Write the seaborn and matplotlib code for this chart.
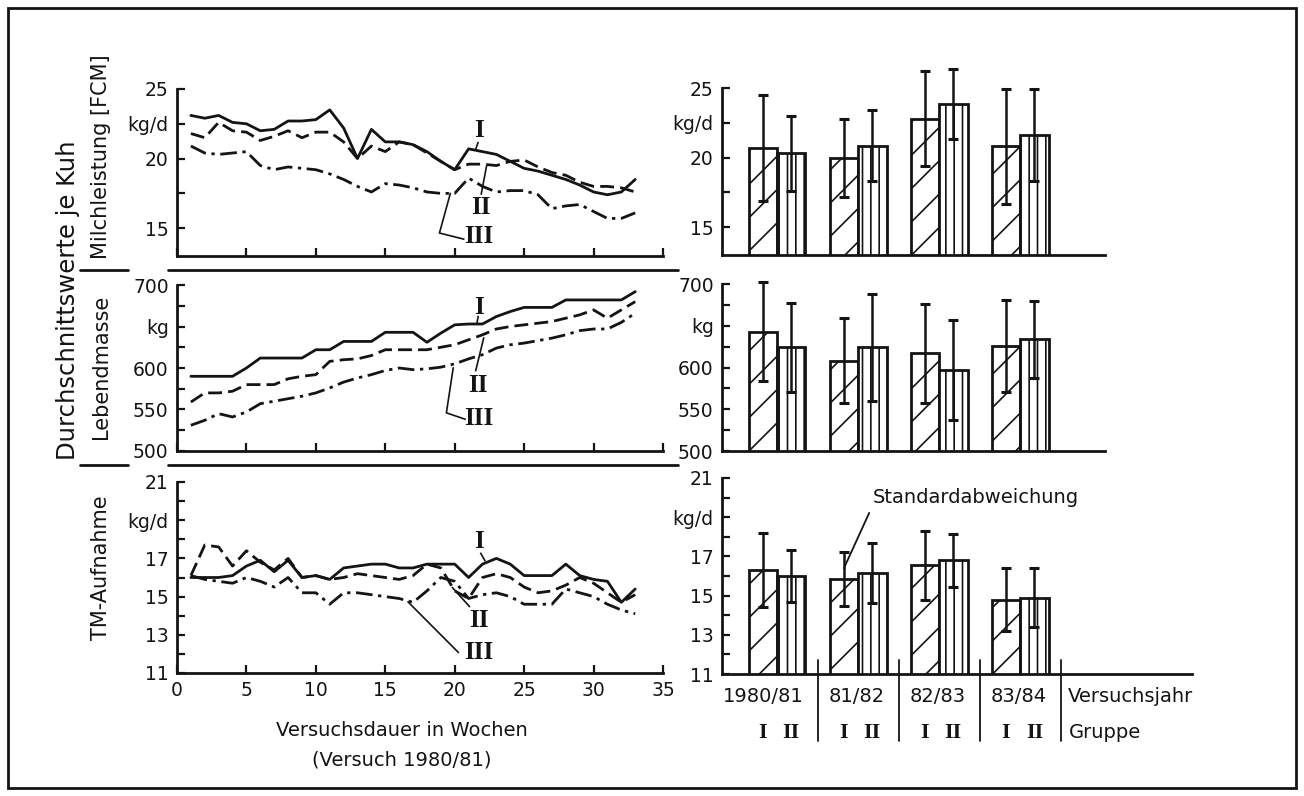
import numpy as np
import pandas as pd
import matplotlib
matplotlib.use("Agg")
import matplotlib.pyplot as plt
import seaborn as sns
from matplotlib.transforms import blended_transform_factory as btf
from matplotlib.patches import Rectangle
from matplotlib.lines import Line2D

# ---------------- data ----------------
weeks = list(range(1, 34))

milk_I = [23.1, 22.9, 23.1, 22.6, 22.5, 22.0, 22.1, 22.7, 22.7, 22.8, 23.5, 22.2, 20.0,
          22.1, 21.2, 21.2, 21.0, 20.5, 19.8, 19.2, 20.7, 20.5, 20.3, 19.8, 19.3, 19.1,
          18.8, 18.5, 18.1, 17.6, 17.4, 17.6, 18.5]
milk_II = [21.8, 21.5, 22.6, 22.0, 21.9, 21.3, 21.6, 22.0, 21.5, 21.9, 21.9, 21.2, 20.0,
           20.9, 20.5, 21.2, 21.0, 20.4, 19.8, 19.2, 19.6, 19.6, 19.5, 19.8, 19.9, 19.4,
           19.0, 18.8, 18.3, 18.0, 18.0, 17.9, 17.6]
milk_III = [20.9, 20.4, 20.3, 20.4, 20.5, 19.5, 19.2, 19.4, 19.3, 19.2, 18.9, 18.5, 18.0,
            17.6, 18.2, 18.1, 17.9, 17.6, 17.5, 17.5, 18.6, 18.0, 17.6, 17.7, 17.7, 17.4,
            16.4, 16.6, 16.7, 16.2, 15.7, 15.7, 16.1]

mass_I = [590, 590, 590, 590, 600, 612, 612, 612, 612, 622, 622, 632, 632, 632, 643, 643,
          643, 631, 642, 652, 653, 653, 662, 668, 673, 673, 673, 682, 682, 682, 682, 682, 692]
mass_II = [559, 570, 570, 572, 580, 580, 580, 587, 590, 592, 608, 610, 611, 615, 622, 622,
           622, 622, 625, 628, 634, 640, 647, 650, 652, 654, 656, 660, 664, 670, 660, 670, 680]
mass_III = [531, 537, 545, 541, 547, 557, 560, 563, 566, 570, 576, 583, 588, 592, 597, 600,
            598, 599, 601, 605, 611, 616, 624, 628, 630, 633, 636, 640, 645, 647, 647, 655, 666]

dm_I = [16.0, 16.0, 16.0, 16.1, 16.6, 16.9, 16.3, 16.9, 16.0, 16.1, 15.9, 16.5, 16.6,
        16.7, 16.7, 16.5, 16.5, 16.7, 16.7, 16.7, 16.0, 16.7, 17.0, 16.7, 16.1, 16.1,
        16.1, 16.7, 16.1, 15.9, 15.8, 14.7, 15.4]
dm_II = [16.1, 17.7, 17.6, 16.6, 17.4, 16.8, 16.4, 17.0, 16.0, 16.1, 15.9, 16.0, 16.2,
         16.1, 16.0, 15.9, 16.1, 16.7, 16.5, 15.3, 14.9, 16.0, 16.2, 16.0, 15.5, 15.2,
         15.3, 15.6, 16.0, 15.7, 15.2, 14.7, 15.1]
dm_III = [16.1, 15.9, 15.8, 15.7, 16.0, 15.8, 15.5, 16.0, 15.2, 15.2, 14.6, 15.2, 15.2,
          15.1, 15.0, 14.9, 14.7, 15.3, 16.0, 15.8, 14.9, 15.1, 15.2, 15.0, 14.6, 14.6,
          14.6, 15.4, 15.2, 15.0, 14.6, 14.3, 14.1]

years = ["1980/81", "81/82", "82/83", "83/84"]
groups = ["I", "II"]

milk_bar_I = [20.7, 20.0, 22.8, 20.8]
milk_sd_I = [3.8, 2.8, 3.4, 4.1]
milk_bar_II = [20.3, 20.85, 23.85, 21.6]
milk_sd_II = [2.7, 2.55, 2.55, 3.3]

mass_bar_I = [643, 608, 617, 626]
mass_sd_I = [59, 51, 59, 55]
mass_bar_II = [624, 624, 597, 634]
mass_sd_II = [53, 64, 60, 46]

dm_bar_I = [16.3, 15.85, 16.55, 14.8]
dm_sd_I = [1.9, 1.4, 1.75, 1.6]
dm_bar_II = [16.0, 16.15, 16.8, 14.9]
dm_sd_II = [1.35, 1.55, 1.35, 1.5]

# ---------------- style ----------------
sns.set_theme(style="ticks")
plt.rcParams["font.family"] = ["DejaVu Sans"]
plt.rcParams["hatch.linewidth"] = 1.2
INK = "#141414"
ROMAN = dict(family=["Liberation Serif", "DejaVu Serif"], fontsize=18, color=INK,
             fontweight="bold")

W, H = 1304, 796
fig = plt.figure(figsize=(W / 100, H / 100), dpi=100)
fig.patch.set_facecolor("white")


def add_ax(x0, y0, x1, y1):
    return fig.add_axes([x0 / W, 1 - y1 / H, (x1 - x0) / W, (y1 - y0) / H])


def style_axis(ax, yticks, ylabels, ylim):
    sns.despine(ax=ax)
    for s in ("left", "bottom"):
        ax.spines[s].set_linewidth(2.0)
        ax.spines[s].set_color(INK)
    ax.set_ylim(*ylim)
    ax.set_yticks(yticks)
    ax.set_yticklabels(ylabels)
    ax.tick_params(direction="in", length=6, width=1.6, labelsize=13.5, colors=INK, pad=6)
    ax.set_facecolor("none")
    ax.set_xlabel("")
    ax.set_ylabel("")


LS = {"I": "-", "II": (0, (5, 2.2)), "III": (0, (6, 2, 1.2, 2))}


def line_panel(ax, s1, s2, s3, yticks, ylabels, ylim, show_x):
    for vals, key in ((s1, "I"), (s2, "II"), (s3, "III")):
        sns.lineplot(x=weeks, y=vals, ax=ax, color=INK, linewidth=2.0,
                     linestyle=LS[key], estimator=None)
    ax.set_xlim(0, 35)
    ax.set_xticks(range(0, 36, 5))
    style_axis(ax, yticks, ylabels, ylim)
    if not show_x:
        ax.tick_params(axis="x", labelbottom=False)


def roman(ax, txt, x, y, path):
    ax.text(x, y, txt, ha="center", va="center", **ROMAN)
    px, py = zip(*path)
    ax.plot(px, py, color=INK, lw=1.2, solid_capstyle="butt")


# ---------- left line panels ----------
ax1 = add_ax(177, 89, 663, 256)
line_panel(ax1, milk_I, milk_II, milk_III, [15, 17.5, 20, 22.5, 25],
           ["15", "", "20", "kg/d", "25"], (13, 25), False)
roman(ax1, "I", 21.75, 22.0, [(21.7, 21.2), (21.5, 20.65)])
roman(ax1, "II", 21.85, 16.5, [(21.9, 17.4), (22.3, 19.5)])
roman(ax1, "III", 21.75, 14.4, [(20.7, 14.2), (18.9, 14.65), (19.7, 17.55)])

ax2 = add_ax(177, 285, 663, 451)
line_panel(ax2, mass_I, mass_II, mass_III, list(range(500, 701, 25)),
           ["500", "", "550", "", "600", "", "kg", "", "700"], (500, 700), False)
roman(ax2, "I", 21.75, 673, [(21.7, 663), (21.6, 654)])
roman(ax2, "II", 21.7, 579, [(21.5, 596), (22.1, 637)])
roman(ax2, "III", 21.75, 539, [(20.8, 538), (19.4, 546), (19.9, 601)])

ax3 = add_ax(177, 482, 663, 673)
line_panel(ax3, dm_I, dm_II, dm_III, list(range(11, 22)),
           ["11", "", "13", "", "15", "", "17", "", "kg/d", "", "21"], (11, 21), True)
roman(ax3, "I", 21.75, 17.9, [(21.85, 17.3), (22.2, 16.85)])
roman(ax3, "II", 21.75, 13.75, [(21.1, 14.45), (19.8, 15.5)])
roman(ax3, "III", 21.75, 12.05, [(20.3, 12.05), (16.6, 14.75)])

# ---------- right bar panels ----------
def bar_panel(ax, mI, sI, mII, sII, yticks, ylabels, ylim, base_right):
    df = pd.DataFrame({"year": years * 2,
                       "group": ["I"] * 4 + ["II"] * 4,
                       "value": mI + mII})
    sns.barplot(data=df, x="year", y="value", hue="group", order=years,
                hue_order=groups, width=0.7, errorbar=None, palette=["white", "white"],
                saturation=1, edgecolor=INK, linewidth=2.0, legend=False, ax=ax, gap=0)
    for cont, hatch, sds, means in zip(ax.containers, ["/", "||"], [sI, sII], [mI, mII]):
        xs = []
        for p in cont.patches:
            p.set_hatch(hatch)
            p.set_facecolor("white")
            p.set_edgecolor(INK)
            xs.append(p.get_x() + p.get_width() / 2)
        eb = ax.errorbar(xs, means, yerr=sds, fmt="none", ecolor=INK, elinewidth=1.8,
                         capsize=3.5, capthick=2.2)
        for art in eb.lines[1] + eb.lines[2]:
            art.set_clip_on(False)
    ax.set_xlim(-0.68, 5.12)
    ax.set_xticks([])
    style_axis(ax, yticks, ylabels, ylim)
    ax.spines["bottom"].set_bounds(-0.68, base_right)
    ax.spines["left"].set_bounds(*ylim)


axr1 = add_ax(722, 88, 1192, 255)
bar_panel(axr1, milk_bar_I, milk_sd_I, milk_bar_II, milk_sd_II,
          [15, 17.5, 20, 22.5, 25], ["15", "", "20", "kg/d", "25"], (13, 25), 4.05)

axr2 = add_ax(722, 284, 1192, 451)
bar_panel(axr2, mass_bar_I, mass_sd_I, mass_bar_II, mass_sd_II,
          list(range(500, 701, 25)),
          ["500", "", "550", "", "600", "", "kg", "", "700"], (500, 700), 4.05)

axr3 = add_ax(722, 478, 1192, 674)
bar_panel(axr3, dm_bar_I, dm_sd_I, dm_bar_II, dm_sd_II, list(range(11, 22)),
          ["11", "", "13", "", "15", "", "17", "", "kg/d", "", "21"], (11, 21), 5.12)

tr = btf(axr3.transData, axr3.transAxes)
for i, yr in enumerate(years):
    axr3.text(i - (0.17 if i == 0 else 0.02), -0.117, yr, transform=tr, ha="center",
              va="center", fontsize=14, color=INK)
    for off, g in ((-0.175, "I"), (0.175, "II")):
        axr3.text(i + off, -0.30, g, transform=tr, ha="center", va="center",
                  family=["Liberation Serif", "DejaVu Serif"], fontsize=16,
                  fontweight="bold", color=INK)
    axr3.axvline(i + 0.5, ymin=-0.34, ymax=0.072, color=INK, lw=1.3, clip_on=False)
axr3.text(3.59, -0.117, "Versuchsjahr", transform=tr, ha="left", va="center",
          fontsize=14, color=INK)
axr3.text(3.6, -0.30, "Gruppe", transform=tr, ha="left", va="center",
          fontsize=14, color=INK)
axr3.annotate("Standardabweichung", xy=(1 - 0.175, 16.4), xytext=(1.18, 20.0),
              textcoords="data", ha="left", va="center", fontsize=14, color=INK,
              arrowprops=dict(arrowstyle="-", color=INK, lw=1.3, relpos=(0.0, 0.1),
                              shrinkA=2, shrinkB=0))

# ---------- figure level texts and lines ----------
def ftxt(x, y, s, **kw):
    fig.text(x / W, 1 - y / H, s, color=INK, **kw)


ftxt(402, 730, "Versuchsdauer in Wochen", ha="center", va="center", fontsize=14)
ftxt(402, 760, "(Versuch 1980/81)", ha="center", va="center", fontsize=14)
ftxt(68, 300, "Durchschnittswerte je Kuh", rotation=90, ha="center", va="center", fontsize=17.5)
ftxt(101, 157, "Milchleistung [FCM]", rotation=90, ha="center", va="center", fontsize=15)
ftxt(101, 367, "Lebendmasse", rotation=90, ha="center", va="center", fontsize=15)
ftxt(101, 568, "TM-Aufnahme", rotation=90, ha="center", va="center", fontsize=15)

for yy in (270, 465):
    for xa, xb in ((80, 128), (168, 678)):
        fig.add_artist(Line2D([xa / W, xb / W], [1 - yy / H, 1 - yy / H],
                              transform=fig.transFigure, color=INK, lw=2.0))

fig.add_artist(Rectangle((8 / W, 1 - 788 / H), (1296 - 8) / W, (788 - 8) / H,
                         transform=fig.transFigure, fill=False, edgecolor=INK, lw=2.0))

fig.savefig("out.png", dpi=100, facecolor="white")
